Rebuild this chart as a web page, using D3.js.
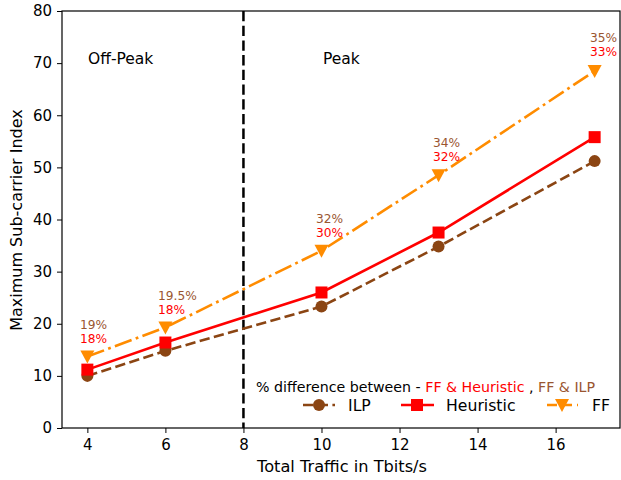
<!DOCTYPE html>
<html>
<head>
<meta charset="utf-8">
<script src="https://cdn.jsdelivr.net/npm/d3@7"></script>
<style>
  body { margin: 0; background: #fff; }
  text { font-family: "DejaVu Sans", sans-serif; }
</style>
</head>
<body>
<div id="chart"></div>
<script>
// traffic values (Tbits/s)
var traffic = [4, 6, 10, 13, 17];
var ilp = [10, 14.8, 23.3, 34.8, 51.2];
var heuristic = [11.2, 16.4, 26, 37.5, 55.8];
var ff = [13.7, 19.3, 34, 48.5, 68.5];

// % difference labels: FF & ILP (top), FF & Heuristic (bottom)
var diffIlp = ['19%', '19.5%', '32%', '34%', '35%'];
var diffHeur = ['18%', '18%', '30%', '32%', '33%'];

var xTicks = [4, 6, 8, 10, 12, 14, 16];
var yTicks = [0, 10, 20, 30, 40, 50, 60, 70, 80];

var brown = '#8B4513', red = '#ff0000', orange = '#ff8c00', brownText = '#9a5630';

var W = 621, H = 480;
var svg = d3.select('#chart').append('svg').attr('width', W).attr('height', H);

var x = d3.scaleLinear().domain([3.35, 17.65]).range([62, 620]);
var y = d3.scaleLinear().domain([0, 80]).range([428, 11]);

// axes
svg.append('g').attr('transform', 'translate(0,428)')
   .call(d3.axisBottom(x).tickValues(xTicks).tickSize(5).tickPadding(6).tickFormat(d3.format('d')))
   .call(function(g){ g.select('.domain').remove(); });
svg.append('g').attr('transform', 'translate(62,0)')
   .call(d3.axisLeft(y).tickValues(yTicks).tickSize(5).tickPadding(5))
   .call(function(g){ g.select('.domain').remove(); });
svg.selectAll('.tick text').attr('font-size', 15).attr('fill', '#000')
   .style('font-family', '"DejaVu Sans", sans-serif');
svg.selectAll('.tick line').attr('stroke', '#000').attr('stroke-width', 1);

// frame
svg.append('rect').attr('x', 62).attr('y', 11).attr('width', 558).attr('height', 417)
   .attr('fill', 'none').attr('stroke', '#000').attr('stroke-width', 1.2);

// peak divider
svg.append('line').attr('x1', x(8)).attr('x2', x(8)).attr('y1', y(80)).attr('y2', y(0))
   .attr('stroke', '#000').attr('stroke-width', 2.5).attr('stroke-dasharray', '10.3,4.4');

svg.append('text').attr('x', 88).attr('y', 64).attr('font-size', 15.5).text('Off-Peak');
svg.append('text').attr('x', 323).attr('y', 64).attr('font-size', 15.5).text('Peak');

// lines
var line = d3.line().x(function(d, i){ return x(traffic[i]); }).y(function(d){ return y(d); });

svg.append('path').datum(ilp).attr('d', line).attr('fill', 'none')
   .attr('stroke', brown).attr('stroke-width', 2.6).attr('stroke-dasharray', '10.3,4.4');
svg.append('path').datum(heuristic).attr('d', line).attr('fill', 'none')
   .attr('stroke', red).attr('stroke-width', 2.6);
svg.append('path').datum(ff).attr('d', line).attr('fill', 'none')
   .attr('stroke', orange).attr('stroke-width', 2.6).attr('stroke-dasharray', '17.8,4.4,2.8,4.4');

// markers
svg.selectAll('.m-ilp').data(ilp).enter().append('circle')
   .attr('cx', function(d, i){ return x(traffic[i]); })
   .attr('cy', function(d){ return y(d); })
   .attr('r', 6).attr('fill', brown);
svg.selectAll('.m-heur').data(heuristic).enter().append('rect')
   .attr('x', function(d, i){ return x(traffic[i]) - 6; })
   .attr('y', function(d){ return y(d) - 6; })
   .attr('width', 12).attr('height', 12).attr('fill', red);
var tri = 'M-7,-6L7,-6L0,7Z';
svg.selectAll('.m-ff').data(ff).enter().append('path')
   .attr('transform', function(d, i){ return 'translate(' + x(traffic[i]) + ',' + y(d) + ')'; })
   .attr('d', tri).attr('fill', orange);

// % difference annotations
var annX = [80, 158, 316, 433, 590];
var annY = [329, 300, 223, 147, 42];
svg.selectAll('.a-ilp').data(diffIlp).enter().append('text')
   .attr('x', function(d, i){ return annX[i]; })
   .attr('y', function(d, i){ return annY[i]; })
   .attr('font-size', 12.2).attr('fill', brownText).text(function(d){ return d; });
svg.selectAll('.a-heur').data(diffHeur).enter().append('text')
   .attr('x', function(d, i){ return annX[i]; })
   .attr('y', function(d, i){ return annY[i] + 13.5; })
   .attr('font-size', 12.2).attr('fill', red).text(function(d){ return d; });

// legend
var lt = svg.append('text').attr('x', 256).attr('y', 392).attr('font-size', 14.2);
lt.append('tspan').attr('fill', '#000').text('% difference between - ');
lt.append('tspan').attr('fill', red).text('FF & Heuristic');
lt.append('tspan').attr('fill', '#000').text(' , ');
lt.append('tspan').attr('fill', brownText).text('FF & ILP');

var ly = 405;
var lg = svg.append('g');
lg.append('line').attr('x1', 303).attr('x2', 335).attr('y1', ly).attr('y2', ly)
  .attr('stroke', brown).attr('stroke-width', 2.6).attr('stroke-dasharray', '10.3,4.4');
lg.append('circle').attr('cx', 319).attr('cy', ly).attr('r', 6).attr('fill', brown);
lg.append('text').attr('x', 348).attr('y', ly + 6).attr('font-size', 15.7).text('ILP');

lg.append('line').attr('x1', 401).attr('x2', 434).attr('y1', ly).attr('y2', ly)
  .attr('stroke', red).attr('stroke-width', 2.6);
lg.append('rect').attr('x', 411).attr('y', ly - 6).attr('width', 12).attr('height', 12).attr('fill', red);
lg.append('text').attr('x', 446).attr('y', ly + 6).attr('font-size', 15.7).text('Heuristic');

lg.append('line').attr('x1', 547).attr('x2', 578).attr('y1', ly).attr('y2', ly)
  .attr('stroke', orange).attr('stroke-width', 2.6).attr('stroke-dasharray', '10,5');
lg.append('path').attr('transform', 'translate(562,' + ly + ')').attr('d', tri).attr('fill', orange);
lg.append('text').attr('x', 592).attr('y', ly + 6).attr('font-size', 15.7).text('FF');

// axis labels
svg.append('text').attr('x', 342).attr('y', 472).attr('text-anchor', 'middle')
   .attr('font-size', 16.2).text('Total Traffic in Tbits/s');
svg.append('text').attr('transform', 'translate(22,220) rotate(-90)').attr('text-anchor', 'middle')
   .attr('font-size', 16).text('Maximum Sub-carrier Index');
</script>
</body>
</html>
